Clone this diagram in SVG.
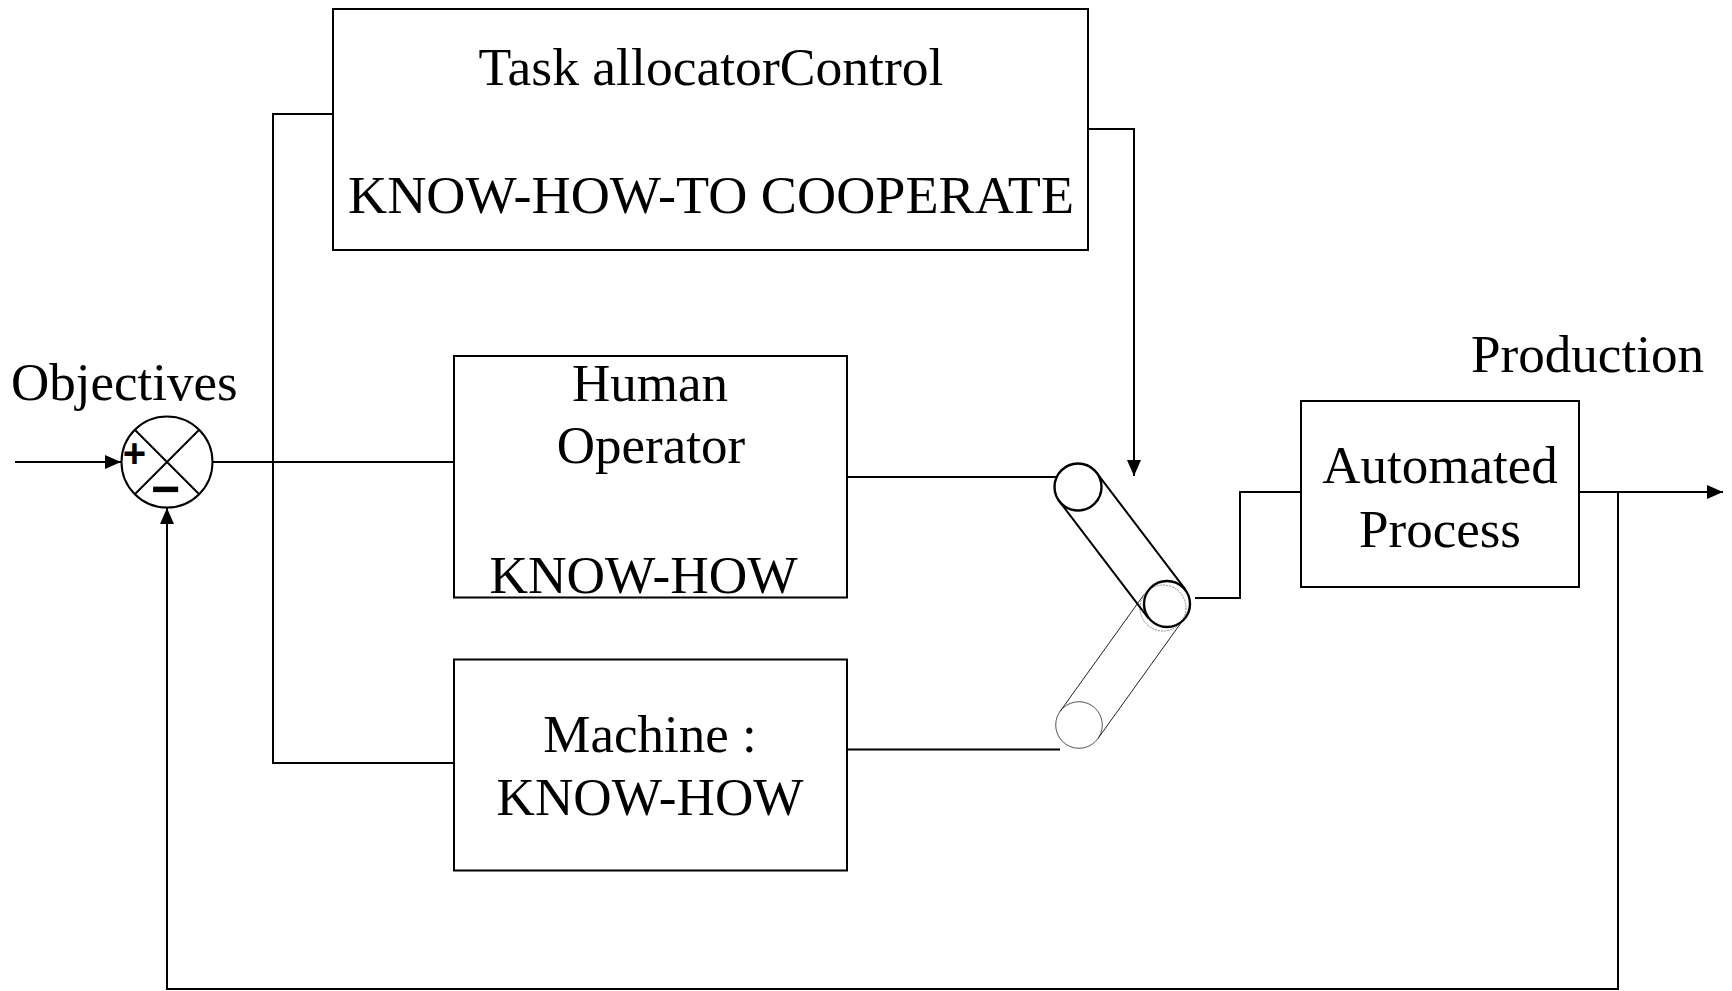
<svg xmlns="http://www.w3.org/2000/svg" width="1732" height="991" viewBox="0 0 1732 991">
<style>
.box{fill:#fff;stroke:#000;stroke-width:2}
.ln{fill:none;stroke:#000;stroke-width:2}
.t{font-family:"Liberation Serif","Times New Roman",serif;font-size:53px;fill:#000}
.c{text-anchor:middle}
.sw{fill:#fff;stroke:#000;stroke-width:2.4}
.gh{fill:none;stroke:#222;stroke-width:1}
</style>
<defs>
<marker id="ah" markerUnits="userSpaceOnUse" markerWidth="17" markerHeight="15" refX="16" refY="7" orient="auto">
<path d="M0,0 L16,7 L0,14 z" fill="#000"/>
</marker>
</defs>
<rect width="1732" height="991" fill="#fff"/>
<g id="connectors">
<path class="ln" d="M15,462 H121" marker-end="url(#ah)"/>
<path class="ln" d="M212.5,462 H454"/>
<path class="ln" d="M333,114 H273 V763 H454"/>
<path class="ln" d="M1088,129 H1134 V476" marker-end="url(#ah)"/>
<path class="ln" d="M847,477 H1058"/>
<path class="ln" d="M847,749.5 H1060"/>
<path class="ln" d="M1195,598 H1240 V492 H1301"/>
<path class="ln" d="M1573,492 H1723" marker-end="url(#ah)"/>
<path class="ln" d="M1618,492 V989 H167 V508" marker-end="url(#ah)"/>
</g>
<g id="sum">
<circle cx="167" cy="462" r="45.5" fill="#fff" stroke="#000" stroke-width="2"/>
<path class="ln" d="M134.8,429.8 L199.2,494.2 M199.2,429.8 L134.8,494.2"/>
<text x="134.5" y="467" text-anchor="middle" style="font-family:'Liberation Sans',Arial,sans-serif;font-weight:bold;font-size:40px">+</text>
<text x="165.5" y="506" text-anchor="middle" style="font-family:'Liberation Sans',Arial,sans-serif;font-weight:bold;font-size:50px">−</text>
</g>
<g id="objectives"><text class="t" x="11" y="400">Objectives</text></g>
<g id="production"><text class="t" x="1471" y="372" textLength="233" lengthAdjust="spacingAndGlyphs">Production</text></g>
<g id="task-allocator">
<rect class="box" x="333" y="9" width="755" height="241"/>
<text class="t c" x="711" y="85" textLength="465" lengthAdjust="spacingAndGlyphs">Task allocatorControl</text>
<text class="t c" x="711" y="213" textLength="726" lengthAdjust="spacingAndGlyphs">KNOW-HOW-TO COOPERATE</text>
</g>
<g id="human-operator">
<rect class="box" x="454" y="356" width="393" height="241.5"/>
<text class="t c" x="650" y="401">Human</text>
<text class="t c" x="651" y="463">Operator</text>
<text class="t c" x="643.5" y="593" textLength="308" lengthAdjust="spacingAndGlyphs">KNOW-HOW</text>
</g>
<g id="machine">
<rect class="box" x="454" y="659.5" width="393" height="211"/>
<text class="t c" x="650" y="752">Machine :</text>
<text class="t c" x="650" y="815" textLength="307" lengthAdjust="spacingAndGlyphs">KNOW-HOW</text>
</g>
<g id="switch">
<g id="switch-lower">
<circle cx="1079" cy="725" r="23.3" fill="#fff" stroke="#555" stroke-width="1"/>
<path class="gh" d="M1097.9,738.6 L1181.9,621.6 M1060.1,711.4 L1144.1,594.4"/>
<circle cx="1163" cy="608" r="23" fill="none" stroke="#888" stroke-width="1" stroke-dasharray="2,1"/>
</g>
<g id="switch-upper">
<path class="ln" d="M1096.7,472.8 L1185.7,589.8 M1059.3,501.2 L1148.3,618.2" stroke-width="2.4"/>
<circle class="sw" cx="1078" cy="487" r="23.5"/>
<circle cx="1167" cy="604" r="23" fill="none" stroke="#000" stroke-width="2.4"/>
</g>
</g>
<g id="automated-process">
<rect class="box" x="1301" y="401" width="278" height="186"/>
<text class="t c" x="1440" y="483">Automated</text>
<text class="t c" x="1440" y="547">Process</text>
</g>
</svg>
